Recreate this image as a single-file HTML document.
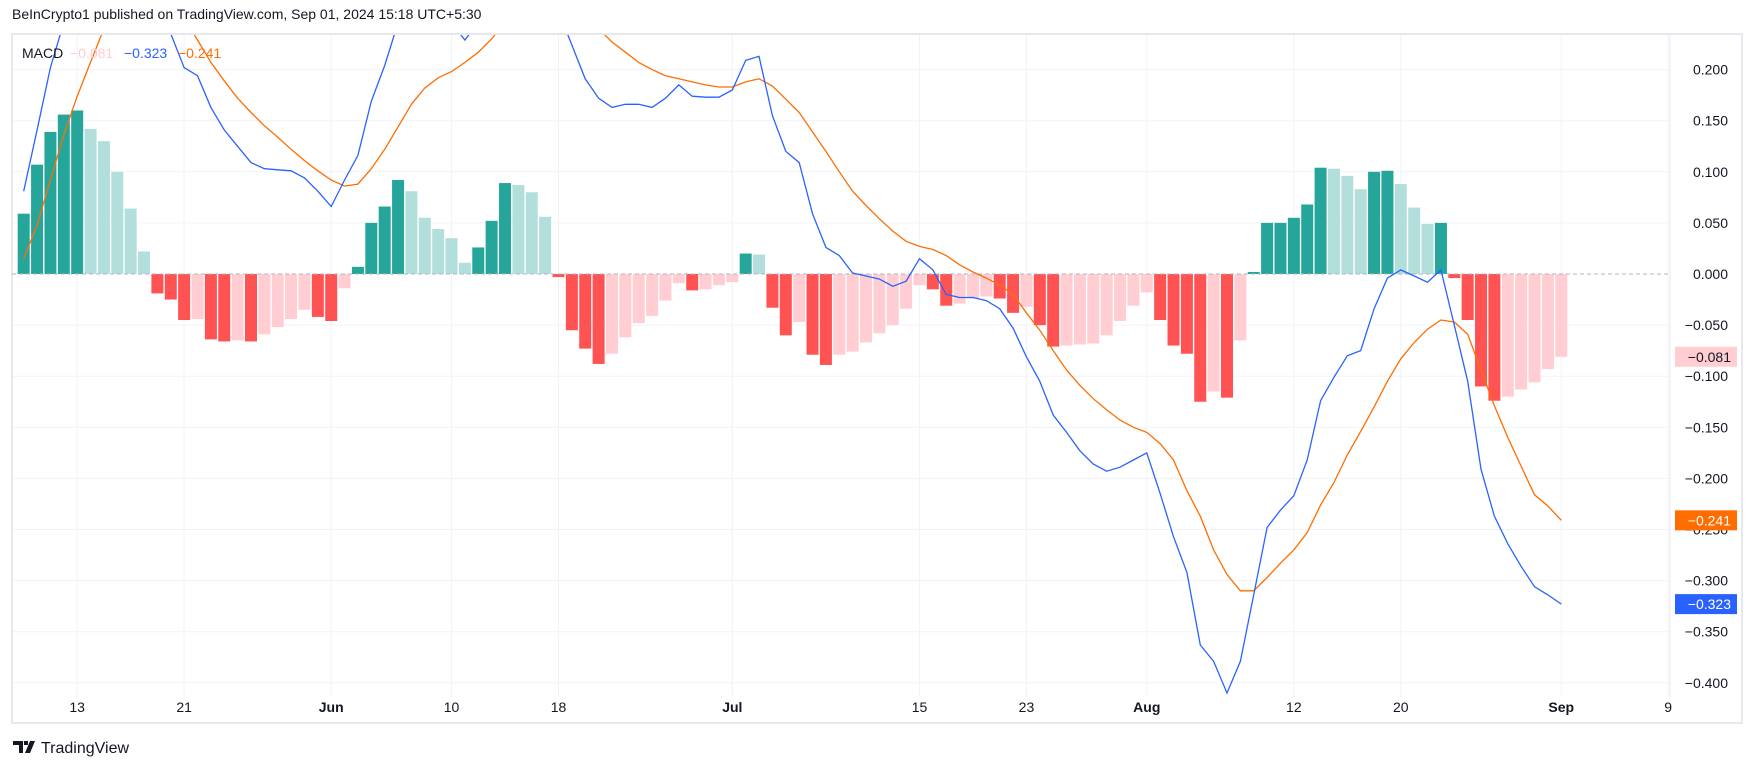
<!DOCTYPE html>
<html><head><meta charset="utf-8">
<style>
html,body{margin:0;padding:0;background:#fff;width:1754px;height:768px;overflow:hidden;font-family:"Liberation Sans",sans-serif;}
svg text{font-family:"Liberation Sans",sans-serif;}
</style></head>
<body>
<svg id="chart" width="1754" height="768" viewBox="0 0 1754 768" xmlns="http://www.w3.org/2000/svg">
  <text x="12" y="19" font-size="14" fill="#131722">BeInCrypto1 published on TradingView.com, Sep 01, 2024 15:18 UTC+5:30</text>
  <rect x="12" y="34" width="1730" height="689" fill="none" stroke="#e6e8ee" stroke-width="2"/>
  <line x1="1670" y1="34" x2="1670" y2="697" stroke="#e6e8ee" stroke-width="1"/>
  <g id="grid"></g>
  <g id="bars"></g>
  <line x1="12" x2="1670" y1="274" y2="274" stroke="#b2b5be" stroke-dasharray="4,3"/>
  <g id="lines"></g>
  <g id="yaxis"></g>
  <g id="xaxis"></g>
  <g font-size="14">
    <text x="22" y="58" fill="#131722">MACD</text>
    <text x="70" y="58" fill="#ffcdd2">−0.081</text>
    <text x="124" y="58" fill="#2962ff">−0.323</text>
    <text x="178" y="58" fill="#ff6d00">−0.241</text>
  </g>
  <g>
    <path d="M13 741h10v12h-4v-8h-6z M24 741h4v4h-4z M30 741h5l-5 12h-5z" fill="#131722"/>
    <text x="41" y="753" font-size="16" fill="#131722">TradingView</text>
  </g>
</svg>
<script>
const hist=[0.059,0.107,0.139,0.156,0.160,0.142,0.130,0.100,0.064,0.022,-0.019,-0.025,-0.045,-0.044,-0.064,-0.066,-0.065,-0.066,-0.059,-0.052,-0.044,-0.035,-0.042,
-0.046,-0.014,0.007,0.050,0.066,0.092,0.081,0.055,0.044,0.035,0.011,0.026,0.052,0.089,0.087,0.080,0.056,-0.003,-0.055,-0.073,-0.088,-0.078,-0.062,-0.048,-0.041,-0.026,-0.009,-0.016,-0.015,-0.011,
-0.008,0.020,0.019,-0.033,-0.060,-0.047,-0.079,-0.089,-0.079,-0.076,-0.067,-0.058,-0.050,-0.034,-0.011,-0.015,-0.031,-0.029,-0.024,-0.022,-0.024,-0.038,-0.032,-0.050,-0.071,-0.070,-0.069,-0.068,-0.060,-0.046,-0.031,
-0.018,-0.045,-0.070,-0.078,-0.125,-0.115,-0.121,-0.065,0.002,0.050,0.050,0.055,0.068,0.104,0.103,0.096,0.083,0.100,0.101,0.088,0.065,0.049,0.050,-0.004,-0.045,-0.110,-0.124,-0.120,-0.113,-0.106,-0.093,
-0.081];
const macd=[0.081,0.141,0.202,0.246,0.279,0.300,0.311,0.311,0.311,0.289,0.268,0.235,0.202,0.194,0.163,0.141,0.125,0.109,0.103,0.102,0.101,0.094,0.081,
0.066,0.092,0.116,0.169,0.204,0.246,0.279,0.289,0.268,0.246,0.229,0.246,0.268,0.289,0.295,0.295,0.284,0.257,0.224,0.191,0.172,0.163,0.166,0.166,0.163,0.172,0.185,0.174,0.173,0.173,
0.180,0.209,0.213,0.155,0.120,0.109,0.059,0.026,0.018,0.001,-0.002,-0.005,-0.012,-0.007,0.015,0.004,-0.020,-0.023,-0.023,-0.026,-0.034,-0.053,-0.081,-0.105,-0.138,-0.155,-0.173,-0.186,-0.193,-0.189,-0.182,
-0.175,-0.215,-0.257,-0.292,-0.363,-0.379,-0.410,-0.379,-0.314,-0.248,-0.231,-0.217,-0.182,-0.124,-0.101,-0.080,-0.075,-0.034,-0.004,0.004,-0.002,-0.008,0.004,-0.050,-0.105,-0.191,-0.237,-0.264,-0.286,-0.306,-0.314,
-0.323];
const signal=[0.015,0.048,0.092,0.136,0.174,0.207,0.240,0.268,0.284,0.295,0.289,0.273,0.251,0.229,0.207,0.189,0.172,0.158,0.145,0.134,0.122,0.111,0.101,
0.092,0.086,0.088,0.103,0.122,0.144,0.166,0.182,0.192,0.198,0.207,0.217,0.230,0.246,0.257,0.268,0.273,0.273,0.268,0.257,0.240,0.227,0.217,0.207,0.200,0.194,0.191,0.188,0.185,0.183,
0.183,0.188,0.191,0.184,0.171,0.158,0.139,0.120,0.100,0.081,0.067,0.054,0.042,0.032,0.027,0.024,0.018,0.009,0.002,-0.004,-0.011,-0.020,-0.038,-0.055,-0.075,-0.094,-0.109,-0.122,-0.133,-0.143,-0.150,
-0.155,-0.166,-0.182,-0.212,-0.237,-0.270,-0.294,-0.310,-0.310,-0.297,-0.283,-0.270,-0.253,-0.226,-0.204,-0.177,-0.154,-0.130,-0.105,-0.083,-0.067,-0.054,-0.045,-0.047,-0.059,-0.094,-0.129,-0.160,-0.188,-0.216,-0.227,
-0.241];
const yTicks=[0.2,0.15,0.1,0.05,0,-0.05,-0.1,-0.15,-0.2,-0.25,-0.3,-0.35,-0.4];
const xTickIdx=[4,12,23,32,40,53,67,75,84,95,103,115,123];
const xTickLabels=["13","21","Jun","10","18","Jul","15","23","Aug","12","20","Sep","9"];
const xTickBold=[false,false,true,false,false,true,false,false,true,false,false,true,false];

const NS="http://www.w3.org/2000/svg";
const X=i=>23.7+i*13.37;
const Y=v=>274-v*1022;
const TOP=35,BOT=697,LEFT=13,RIGHT=1670;
function mk(tag,attrs,parent){const e=document.createElementNS(NS,tag);for(const k in attrs)e.setAttribute(k,attrs[k]);parent.appendChild(e);return e;}
const grid=document.getElementById('grid'),bars=document.getElementById('bars'),lines=document.getElementById('lines'),ya=document.getElementById('yaxis'),xa=document.getElementById('xaxis');
const fmt=v=>(v<0?'−':'')+Math.abs(v).toFixed(3);
yTicks.forEach(t=>{
  if(t!==0){const g=mk('line',{x1:LEFT,x2:RIGHT,y1:Y(t),y2:Y(t),stroke:'#f0f3fa'},grid);
  
  }
  const tx=mk('text',{x:1728,y:Y(t)+5,'text-anchor':'end','font-size':'14',fill:'#131722'},ya);
  tx.textContent=fmt(t);
  
  
});
xTickIdx.forEach((i,k)=>{
  const g=mk('line',{x1:X(i),x2:X(i),y1:TOP,y2:BOT,stroke:'#f0f3fa'},grid);
  
  
  const tx=mk('text',{x:X(i),y:712,'text-anchor':'middle','font-size':'14',fill:'#131722','font-weight':xTickBold[k]?'bold':'normal'},xa);
  tx.textContent=xTickLabels[k];
  
  
});
hist.forEach((v,i)=>{
  const p=i>0?hist[i-1]:0;
  let c;
  if(v>=0)c=(v>=p)?'#26a69a':'#b2dfdb';else c=(v<=p)?'#ff5252':'#ffcdd2';
  const y0=Y(0),y1=Y(v);
  const r=mk('rect',{x:X(i)-6,y:Math.min(y0,y1),width:12,height:Math.max(1,Math.abs(y1-y0)),fill:c},bars);
  
  
});
const clip=mk('clipPath',{id:'pc'},document.getElementById('chart'));
mk('rect',{x:LEFT,y:TOP,width:RIGHT-LEFT,height:BOT-TOP},clip);
function line(arr,col,name){
  const d=arr.map((v,i)=>(i?'L':'M')+X(i).toFixed(1)+','+Y(v).toFixed(1)).join('');
  const p=mk('path',{d:d,fill:'none',stroke:col,'stroke-width':'1.3','clip-path':'url(#pc)'},lines);
  
  
}
line(signal,'#ff6d00','signal-line');
line(macd,'#2962ff','macd-line');
function badge(v,bg,fg,name){
  const g=mk('g',{},ya);
  
  
  mk('rect',{x:1675,y:Y(v)-10,width:62,height:20,fill:bg},g);
  const t=mk('text',{x:1731,y:Y(v)+5,'text-anchor':'end','font-size':'14',fill:fg},g);
  t.textContent=fmt(v);
}
badge(hist[hist.length-1],'#ffcdd2','#131722','histogram-price-label');
badge(signal[signal.length-1],'#ff6d00','#ffffff','signal-price-label');
badge(macd[macd.length-1],'#2962ff','#ffffff','macd-price-label');
</script>
</body></html>
